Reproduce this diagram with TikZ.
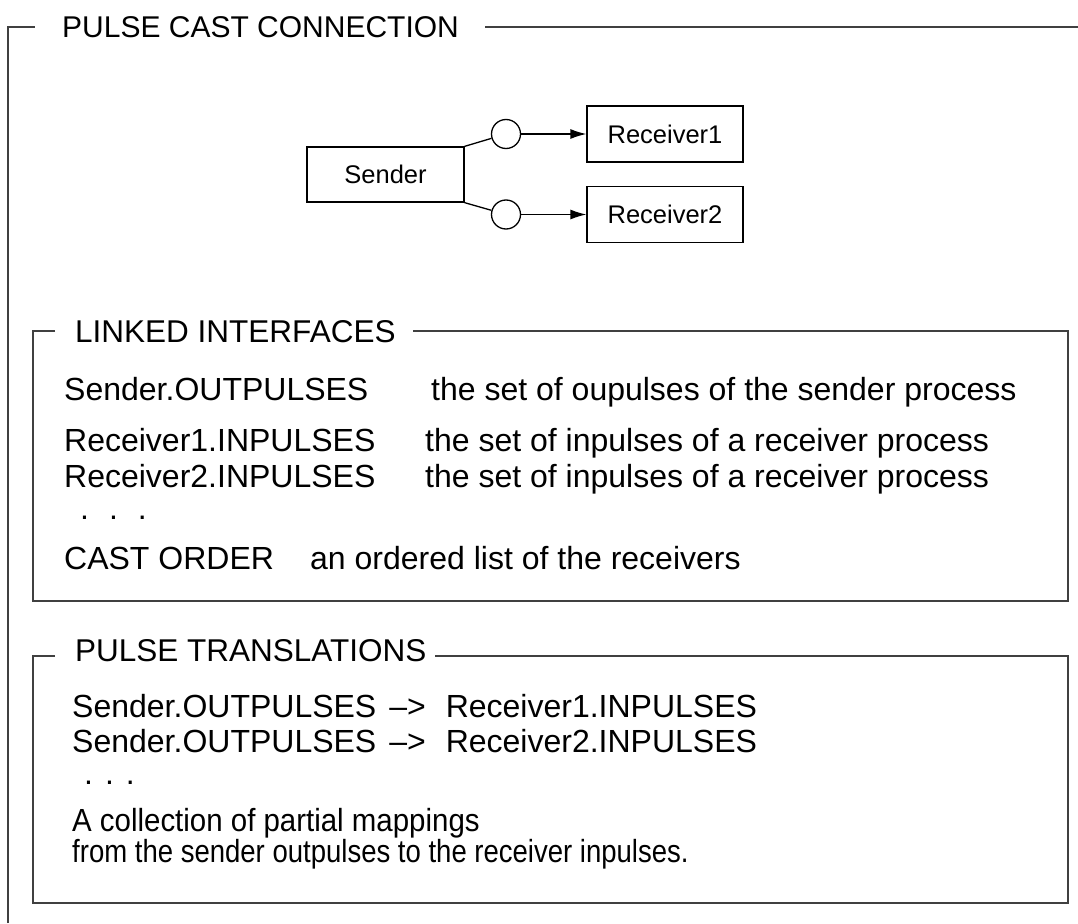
\documentclass[tikz,border=0pt]{standalone}
\usepackage{fontspec}
\setmainfont{Liberation Sans}
\usetikzlibrary{arrows.meta}
\begin{document}
\begin{tikzpicture}[x=1pt,y=-1pt,
  frame/.style={line width=1.2pt, draw=black!75},
  box/.style={draw, line width=1.3pt, minimum width=156pt, minimum height=56pt, inner sep=0pt, font=\fontsize{25.5}{30}\selectfont},
  port/.style={draw, circle, line width=1.3pt, minimum size=29pt, inner sep=0pt},
  body/.style={anchor=base west, inner sep=0pt, font=\fontsize{32}{36}\selectfont},
  head/.style={anchor=base west, inner sep=0pt, font=\fontsize{31.5}{36}\selectfont},
  conn/.style={line width=1.3pt},
  arr/.style={line width=1.3pt, -{Latex[length=16pt,width=10pt]}}
]
\useasboundingbox (0,0) rectangle (1078,923);

% outer frame
\node[head, font=\fontsize{30}{36}\selectfont] (title) at (62,38) {PULSE CAST CONNECTION};
\draw[frame] (8,923) -- (8,27) -- (35,27);
\draw[frame] (485,27) -- (1078,27);

% diagram
\node[box, minimum width=157pt, minimum height=55pt] (snd) at (385.5,174.5) {Sender};
\node[box] (r1) at (665,134) {Receiver1};
\node[box] (r2) at (665,214.5) {Receiver2};
\node[port] (c1) at (506,134) {};
\node[port] (c2) at (506,214.5) {};
\draw[conn] (snd.north east) -- (c1);
\draw[conn] (snd.south east) -- (c2);
\draw[arr] (c1) -- (r1);
\draw[arr] (c2) -- (r2);

% linked interfaces
\node[head] (lhead) at (75,342) {LINKED INTERFACES};
\draw[frame] (55,331) -- (33,331) -- (33,601) -- (1068,601) -- (1068,331) -- (413,331);
\node[body] (so) at (64,400) {Sender.OUTPULSES};
\node[body] (sod) at (431,400) {the set of oupulses of the sender process};
\node[body] (r1i) at (64,451) {Receiver1.INPULSES};
\node[body] (r1d) at (425,451) {the set of inpulses of a receiver process};
\node[body] (r2i) at (64,487) {Receiver2.INPULSES};
\node[body] (r2d) at (425,487) {the set of inpulses of a receiver process};
\node[body] (ldots) at (80,519) {.\hspace{20pt}.\hspace{20pt}.};
\node[body] (co) at (64,569) {CAST ORDER};
\node[body] (cod) at (310,569) {an ordered list of the receivers};

% pulse translations
\node[head] (phead) at (75,661) {PULSE TRANSLATIONS};
\draw[frame] (55,656) -- (33,656) -- (33,903) -- (1068,903) -- (1068,656) -- (435,656);
\node[body] (t1) at (72,717) {Sender.OUTPULSES\hspace{13pt}–>\hspace{20pt}Receiver1.INPULSES};
\node[body] (t2) at (72,752) {Sender.OUTPULSES\hspace{13pt}–>\hspace{20pt}Receiver2.INPULSES};
\node[body] (pdots) at (84,784) {.\hspace{12pt}.\hspace{12pt}.};
\node[body] (m1) at (72,831) {\scalebox{0.92}[1]{A collection of partial mappings}};
\node[body] (m2) at (72,862) {\scalebox{0.86}[1]{from the sender outpulses to the receiver inpulses.}};
\end{tikzpicture}
\end{document}
